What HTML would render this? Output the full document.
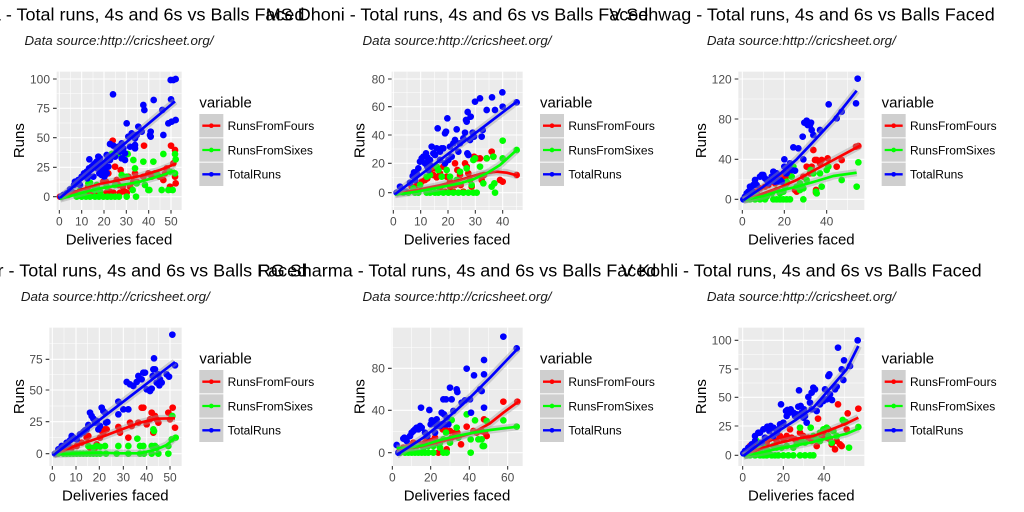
<!DOCTYPE html>
<html><head><meta charset="utf-8"><style>
html,body{margin:0;padding:0;background:#fff;width:1024px;height:512px;overflow:hidden}
svg{display:block}
.tt{font-family:"Liberation Sans",Arial,sans-serif;font-size:54px;fill:#000}
.st{font-family:"Liberation Sans",Arial,sans-serif;font-size:40px;font-style:italic;fill:#1a1a1a}
.tk{font-family:"Liberation Sans",Arial,sans-serif;font-size:36px;fill:#4D4D4D}
.ax{font-family:"Liberation Sans",Arial,sans-serif;font-size:45px;fill:#000}
.lg{font-family:"Liberation Sans",Arial,sans-serif;font-size:36px;fill:#000}
.mi{stroke:#fff;stroke-width:1.6;fill:none}
.ma{stroke:#fff;stroke-width:3.2;fill:none}
.tm{stroke:#333;stroke-width:3.2;fill:none}
.pr{stroke:#FF0000;stroke-width:20;stroke-linecap:round;fill:none}
.pg{stroke:#00FF00;stroke-width:20;stroke-linecap:round;fill:none}
.pb{stroke:#0000FF;stroke-width:20;stroke-linecap:round;fill:none}
.bd{stroke:#999;stroke-opacity:.4;stroke-width:22;fill:none;stroke-linejoin:round}
.lr{stroke:#FF0000;stroke-width:8;fill:none;stroke-linejoin:round}
.lgn{stroke:#00FF00;stroke-width:8;fill:none;stroke-linejoin:round}
.lb{stroke:#0000FF;stroke-width:8;fill:none;stroke-linejoin:round}
.ky{fill:#CFCFCF}
</style></head><body>
<svg width="1024" height="512" viewBox="0 0 1024 512" xmlns="http://www.w3.org/2000/svg">
<rect width="1024" height="512" fill="#fff"/>

<!-- Panel 1 -->
<g transform="translate(0,0) scale(0.333333)">
<rect x="170" y="215" width="375" height="415" fill="#EBEBEB"/>
<path class="mi" d="M212 215V630M279 215V630M346 215V630M413 215V630M480 215V630M170 281H545M170 369H545M170 457H545M170 546H545"/>
<path class="ma" d="M178 215V630M245 215V630M312 215V630M379 215V630M446 215V630M513 215V630M170 237H545M170 325H545M170 413H545M170 502H545M170 590H545"/>
<path class="pr" d="M180 590h.1M205 585h.1M225 580h.1M240 578h.1M258 576h.1M270 578h.1M282 575h.1M290 560h.1M300 575h.1M310 545h.1M318 545h.1M330 575h.1M338 422h.1M345 500h.1M350 540h.1M355 555h.1M362 510h.1M368 560h.1M375 575h.1M380 578h.1M390 560h.1M400 545h.1M405 520h.1M410 545h.1M430 530h.1M432 437h.1M445 520h.1M455 530h.1M465 520h.1M478 530h.1M495 520h.1M500 505h.1M513 437h.1M520 490h.1M525 530h.1M527 550h.1M525 450h.1M490 540h.1M510 560h.1M295 580h.1M320 578h.1M340 578h.1M360 578h.1M385 530h.1M325 520h.1M265 560h.1"/>
<path class="pg" d="M230 590h.1M245 590h.1M258 590h.1M270 590h.1M285 590h.1M297 590h.1M310 590h.1M322 590h.1M333 590h.1M345 590h.1M357 590h.1M380 590h.1M300 575h.1M283 570h.1M265 550h.1M270 548h.1M290 555h.1M320 560h.1M345 555h.1M335 462h.1M345 462h.1M355 462h.1M383 462h.1M365 525h.1M380 530h.1M405 505h.1M398 570h.1M410 550h.1M400 480h.1M430 485h.1M460 485h.1M445 570h.1M448 570h.1M485 570h.1M505 570h.1M518 570h.1M490 462h.1M525 462h.1M527 478h.1M510 515h.1M470 520h.1M525 520h.1M435 555h.1M408 590h.1M250 580h.1M240 572h.1"/>
<path class="pb" d="M183 590h.1M200 580h.1M210 568h.1M222 555h.1M225 545h.1M235 540h.1M245 530h.1M252 520h.1M260 515h.1M265 525h.1M267 505h.1M275 500h.1M280 495h.1M285 490h.1M290 485h.1M295 480h.1M300 475h.1M305 510h.1M310 500h.1M315 490h.1M320 465h.1M325 500h.1M330 480h.1M335 470h.1M268 478h.1M288 500h.1M298 520h.1M305 525h.1M315 525h.1M320 520h.1M330 432h.1M340 437h.1M339 283h.1M380 370h.1M385 410h.1M395 400h.1M390 440h.1M405 415h.1M410 405h.1M405 435h.1M405 445h.1M415 380h.1M425 395h.1M430 315h.1M433 330h.1M452 395h.1M450 405h.1M452 410h.1M461 300h.1M490 405h.1M487 330h.1M505 370h.1M512 240h.1M520 240h.1M527 237h.1M513 298h.1M527 360h.1M515 365h.1M355 440h.1M365 430h.1M370 445h.1M360 455h.1M350 450h.1M375 460h.1M375 480h.1M365 475h.1M345 470h.1M255 520h.1M262 535h.1M270 510h.1M280 530h.1M292 505h.1M308 520h.1M313 530h.1M318 505h.1M322 480h.1M295 470h.1M190 585h.1M215 575h.1M240 555h.1"/>
<polyline class="bd" points="180,594 240,570 300,552 360,540 420,528 480,510 525,492"/>
<polyline class="lr" points="180,594 240,570 300,552 360,540 420,528 480,510 525,492"/>
<polyline class="bd" points="180,597 240,580 300,565 360,556 420,545 480,528 525,512"/>
<polyline class="lgn" points="180,597 240,580 300,565 360,556 420,545 480,528 525,512"/>
<polyline class="bd" points="180,594 525,304"/>
<polyline class="lb" points="180,594 525,304"/>
<path class="tm" d="M159 237H170M159 325H170M159 413H170M159 502H170M159 590H170M178 630V641M245 630V641M312 630V641M379 630V641M446 630V641M513 630V641"/>
<g class="tk" text-anchor="end"><text x="150" y="250">100</text><text x="150" y="338">75</text><text x="150" y="426">50</text><text x="150" y="515">25</text><text x="150" y="603">0</text></g>
<g class="tk" text-anchor="middle"><text x="178" y="676">0</text><text x="245" y="676">10</text><text x="312" y="676">20</text><text x="379" y="676">30</text><text x="446" y="676">40</text><text x="513" y="676">50</text></g>
<text class="ax" x="357" y="733" text-anchor="middle">Deliveries faced</text>
<text class="ax" transform="translate(72,422) rotate(-90)" text-anchor="middle">Runs</text>
<text class="ax" x="598" y="322">variable</text>
<rect class="ky" x="598" y="342" width="72" height="70"/><rect class="ky" x="598" y="415" width="72" height="70"/><rect class="ky" x="598" y="488" width="72" height="70"/>
<path stroke="#FF0000" stroke-width="7" d="M607 377H661"/><circle cx="634" cy="377" r="7" fill="#FF0000"/>
<path stroke="#00FF00" stroke-width="7" d="M607 450H661"/><circle cx="634" cy="450" r="7" fill="#00FF00"/>
<path stroke="#0000FF" stroke-width="7" d="M607 523H661"/><circle cx="634" cy="523" r="7" fill="#0000FF"/>
<text class="lg" x="683" y="390">RunsFromFours</text><text class="lg" x="683" y="463">RunsFromSixes</text><text class="lg" x="683" y="536">TotalRuns</text>
<text class="st" x="357" y="135" text-anchor="middle">Data source:http://cricsheet.org/</text>
<text class="tt" x="344" y="62" text-anchor="middle">SK Raina - Total runs, 4s and 6s vs Balls Faced</text>
</g>

<!-- Panel 2 -->
<g transform="translate(340,0) scale(0.333333)">
<rect x="155" y="215" width="393" height="415" fill="#EBEBEB"/>
<path class="mi" d="M201 215V630M283 215V630M365 215V630M447 215V630M529 215V630M155 278H548M155 362H548M155 447H548M155 533H548M155 620H548"/>
<path class="ma" d="M160 215V630M242 215V630M324 215V630M406 215V630M488 215V630M155 237H548M155 320H548M155 405H548M155 490H548M155 578H548"/>
<path class="pr" d="M200 575h.1M215 560h.1M230 555h.1M245 545h.1M255 540h.1M262 535h.1M270 510h.1M280 525h.1M285 505h.1M290 532h.1M300 520h.1M310 500h.1M320 530h.1M330 545h.1M345 490h.1M352 510h.1M360 525h.1M362 555h.1M375 490h.1M380 500h.1M385 520h.1M390 540h.1M395 560h.1M402 470h.1M410 475h.1M420 475h.1M425 540h.1M432 525h.1M440 475h.1M455 455h.1M460 470h.1M480 540h.1M488 545h.1M530 525h.1M345 555h.1M330 560h.1M300 565h.1M315 575h.1M340 575h.1M370 575h.1"/>
<path class="pg" d="M190 578h.1M205 578h.1M225 578h.1M235 578h.1M260 578h.1M270 578h.1M285 578h.1M295 578h.1M310 578h.1M325 578h.1M340 578h.1M355 578h.1M370 578h.1M385 578h.1M400 578h.1M410 578h.1M465 578h.1M455 560h.1M220 565h.1M240 555h.1M260 530h.1M270 525h.1M290 500h.1M295 510h.1M305 530h.1M320 510h.1M330 530h.1M350 540h.1M360 515h.1M380 505h.1M400 480h.1M405 475h.1M420 500h.1M430 550h.1M440 475h.1M460 470h.1M488 475h.1M488 422h.1M530 450h.1M463 550h.1M395 555h.1"/>
<path class="pb" d="M170 578h.1M180 560h.1M195 575h.1M210 548h.1M218 528h.1M222 517h.1M230 520h.1M240 485h.1M245 475h.1M250 470h.1M255 490h.1M258 460h.1M262 500h.1M265 510h.1M270 480h.1M275 440h.1M280 460h.1M285 465h.1M290 445h.1M293 385h.1M300 455h.1M305 445h.1M310 445h.1M315 400h.1M318 395h.1M322 355h.1M325 480h.1M330 440h.1M335 470h.1M340 430h.1M345 420h.1M350 388h.1M355 455h.1M360 430h.1M370 415h.1M375 398h.1M378 360h.1M380 365h.1M383 336h.1M390 420h.1M382 460h.1M385 465h.1M392 350h.1M398 398h.1M402 410h.1M405 305h.1M420 295h.1M425 410h.1M428 390h.1M440 330h.1M456 292h.1M465 330h.1M487 277h.1M488 320h.1M530 307h.1M225 540h.1M235 505h.1M262 472h.1M270 495h.1M300 480h.1M315 490h.1"/>
<polyline class="bd" points="165,582 230,570 300,556 360,540 420,522 470,515 500,518 530,526"/>
<polyline class="lr" points="165,582 230,570 300,556 360,540 420,522 470,515 500,518 530,526"/>
<polyline class="bd" points="165,584 230,575 300,562 360,550 400,538 440,520 480,495 530,450"/>
<polyline class="lgn" points="165,584 230,575 300,562 360,550 400,538 440,520 480,495 530,450"/>
<polyline class="bd" points="165,583 530,305"/>
<polyline class="lb" points="165,583 530,305"/>
<path class="tm" d="M144 237H155M144 320H155M144 405H155M144 490H155M144 578H155M160 630V641M242 630V641M324 630V641M406 630V641M488 630V641"/>
<g class="tk" text-anchor="end"><text x="135" y="250">80</text><text x="135" y="333">60</text><text x="135" y="418">40</text><text x="135" y="503">20</text><text x="135" y="591">0</text></g>
<g class="tk" text-anchor="middle"><text x="160" y="676">0</text><text x="242" y="676">10</text><text x="324" y="676">20</text><text x="406" y="676">30</text><text x="488" y="676">40</text></g>
<text class="ax" x="351" y="733" text-anchor="middle">Deliveries faced</text>
<text class="ax" transform="translate(73,422) rotate(-90)" text-anchor="middle">Runs</text>
<text class="ax" x="600" y="322">variable</text>
<rect class="ky" x="600" y="342" width="72" height="70"/><rect class="ky" x="600" y="415" width="72" height="70"/><rect class="ky" x="600" y="488" width="72" height="70"/>
<path stroke="#FF0000" stroke-width="7" d="M609 377H663"/><circle cx="636" cy="377" r="7" fill="#FF0000"/>
<path stroke="#00FF00" stroke-width="7" d="M609 450H663"/><circle cx="636" cy="450" r="7" fill="#00FF00"/>
<path stroke="#0000FF" stroke-width="7" d="M609 523H663"/><circle cx="636" cy="523" r="7" fill="#0000FF"/>
<text class="lg" x="685" y="390">RunsFromFours</text><text class="lg" x="685" y="463">RunsFromSixes</text><text class="lg" x="685" y="536">TotalRuns</text>
<text class="st" x="351" y="135" text-anchor="middle">Data source:http://cricsheet.org/</text>
<text class="tt" x="351" y="62" text-anchor="middle">MS Dhoni - Total runs, 4s and 6s vs Balls Faced</text>
</g>

<!-- Panel 3 -->
<g transform="translate(680,0) scale(0.333333)">
<rect x="175" y="215" width="378" height="415" fill="#EBEBEB"/>
<path class="mi" d="M250 215V630M377 215V630M503 215V630M175 297H553M175 417H553M175 538H553"/>
<path class="ma" d="M187 215V630M313 215V630M440 215V630M175 237H553M175 357H553M175 478H553M175 598H553"/>
<path class="pr" d="M195 595h.1M205 590h.1M215 585h.1M225 575h.1M230 580h.1M240 565h.1M255 560h.1M265 555h.1M275 545h.1M285 550h.1M295 535h.1M300 540h.1M305 530h.1M310 520h.1M318 530h.1M325 520h.1M330 510h.1M320 550h.1M345 570h.1M350 575h.1M355 560h.1M370 530h.1M380 500h.1M390 520h.1M395 500h.1M400 450h.1M405 480h.1M410 480h.1M420 490h.1M425 480h.1M443 475h.1M470 500h.1M485 480h.1M528 440h.1M535 438h.1M408 570h.1M408 578h.1"/>
<path class="pg" d="M200 598h.1M210 598h.1M225 598h.1M240 598h.1M255 598h.1M280 598h.1M290 598h.1M300 598h.1M310 598h.1M320 598h.1M330 598h.1M370 598h.1M215 590h.1M230 585h.1M260 590h.1M275 580h.1M290 570h.1M300 580h.1M310 575h.1M315 560h.1M320 545h.1M335 530h.1M340 500h.1M350 560h.1M360 570h.1M370 565h.1M380 540h.1M392 510h.1M400 520h.1M408 575h.1M410 580h.1M420 520h.1M425 560h.1M440 510h.1M445 500h.1M485 540h.1M530 560h.1M535 487h.1M360 550h.1"/>
<path class="pb" d="M190 598h.1M195 590h.1M200 580h.1M205 575h.1M210 560h.1M215 570h.1M220 555h.1M225 540h.1M230 555h.1M240 530h.1M245 525h.1M250 525h.1M255 535h.1M260 540h.1M265 550h.1M270 545h.1M275 530h.1M280 515h.1M285 545h.1M290 520h.1M295 545h.1M300 540h.1M305 545h.1M313 478h.1M313 500h.1M318 520h.1M320 520h.1M325 500h.1M330 490h.1M335 510h.1M340 442h.1M355 445h.1M345 512h.1M370 478h.1M368 410h.1M373 368h.1M380 362h.1M383 375h.1M390 375h.1M393 368h.1M395 390h.1M400 405h.1M420 390h.1M446 313h.1M470 355h.1M485 335h.1M528 310h.1M533 236h.1"/>
<polyline class="bd" points="190,601 250,580 300,562 350,540 400,512 460,480 540,437"/>
<polyline class="lr" points="190,601 250,580 300,562 350,540 400,512 460,480 540,437"/>
<polyline class="bd" points="190,601 250,588 300,572 350,560 400,546 460,528 530,518"/>
<polyline class="lgn" points="190,601 250,588 300,572 350,560 400,546 460,528 530,518"/>
<polyline class="bd" points="190,601 250,560 300,522 350,478 400,425 460,360 530,272"/>
<polyline class="lb" points="190,601 250,560 300,522 350,478 400,425 460,360 530,272"/>
<path class="tm" d="M164 237H175M164 357H175M164 478H175M164 598H175M187 630V641M313 630V641M440 630V641"/>
<g class="tk" text-anchor="end"><text x="155" y="250">120</text><text x="155" y="370">80</text><text x="155" y="491">40</text><text x="155" y="611">0</text></g>
<g class="tk" text-anchor="middle"><text x="187" y="676">0</text><text x="313" y="676">20</text><text x="440" y="676">40</text></g>
<text class="ax" x="364" y="733" text-anchor="middle">Deliveries faced</text>
<text class="ax" transform="translate(78,422) rotate(-90)" text-anchor="middle">Runs</text>
<text class="ax" x="605" y="322">variable</text>
<rect class="ky" x="605" y="342" width="72" height="70"/><rect class="ky" x="605" y="415" width="72" height="70"/><rect class="ky" x="605" y="488" width="72" height="70"/>
<path stroke="#FF0000" stroke-width="7" d="M614 377H668"/><circle cx="641" cy="377" r="7" fill="#FF0000"/>
<path stroke="#00FF00" stroke-width="7" d="M614 450H668"/><circle cx="641" cy="450" r="7" fill="#00FF00"/>
<path stroke="#0000FF" stroke-width="7" d="M614 523H668"/><circle cx="641" cy="523" r="7" fill="#0000FF"/>
<text class="lg" x="690" y="390">RunsFromFours</text><text class="lg" x="690" y="463">RunsFromSixes</text><text class="lg" x="690" y="536">TotalRuns</text>
<text class="st" x="364" y="135" text-anchor="middle">Data source:http://cricsheet.org/</text>
<text class="tt" x="366" y="62" text-anchor="middle">V Sehwag - Total runs, 4s and 6s vs Balls Faced</text>
</g>

<!-- Panel 4 -->
<g transform="translate(0,256) scale(0.333333)">
<rect x="148" y="215" width="397" height="415" fill="#EBEBEB"/>
<path class="mi" d="M192 215V630M263 215V630M334 215V630M405 215V630M475 215V630M148 263H545M148 356H545M148 450H545M148 545H545"/>
<path class="ma" d="M157 215V630M228 215V630M298 215V630M370 215V630M440 215V630M510 215V630M148 310H545M148 402H545M148 497H545M148 593H545"/>
<path class="pr" d="M170 593h.1M180 590h.1M190 585h.1M200 578h.1M215 575h.1M230 570h.1M245 560h.1M250 530h.1M260 545h.1M265 540h.1M270 575h.1M285 575h.1M290 565h.1M300 545h.1M305 525h.1M310 530h.1M315 520h.1M320 520h.1M355 513h.1M360 530h.1M385 545h.1M390 500h.1M395 510h.1M425 455h.1M430 455h.1M440 505h.1M450 490h.1M455 470h.1M460 530h.1M465 480h.1M470 490h.1M475 500h.1M505 470h.1M510 490h.1M518 455h.1M525 515h.1M415 500h.1"/>
<path class="pg" d="M175 593h.1M190 593h.1M200 593h.1M210 593h.1M220 593h.1M230 593h.1M240 593h.1M250 593h.1M260 593h.1M270 593h.1M280 593h.1M290 593h.1M300 593h.1M318 593h.1M350 593h.1M385 593h.1M420 593h.1M432 593h.1M455 593h.1M475 593h.1M505 593h.1M265 570h.1M280 575h.1M290 570h.1M300 572h.1M315 570h.1M355 570h.1M385 570h.1M412 548h.1M420 570h.1M430 570h.1M455 570h.1M465 570h.1M470 575h.1M460 520h.1M462 525h.1M505 570h.1M517 480h.1M527 545h.1M515 550h.1"/>
<path class="pb" d="M165 593h.1M175 580h.1M185 570h.1M195 575h.1M200 560h.1M210 553h.1M215 540h.1M220 545h.1M225 548h.1M230 550h.1M240 535h.1M250 528h.1M255 523h.1M260 520h.1M265 507h.1M270 470h.1M275 480h.1M280 488h.1M285 500h.1M290 495h.1M300 510h.1M305 455h.1M310 465h.1M315 470h.1M318 500h.1M322 498h.1M355 437h.1M355 475h.1M370 460h.1M385 460h.1M390 385h.1M400 390h.1M410 378h.1M425 370h.1M430 350h.1M435 350h.1M440 400h.1M450 405h.1M455 398h.1M458 360h.1M460 340h.1M462 307h.1M465 340h.1M470 380h.1M475 355h.1M480 370h.1M478 388h.1M485 380h.1M500 355h.1M507 362h.1M517 236h.1M525 328h.1M380 378h.1M415 360h.1M205 570h.1M295 520h.1"/>
<polyline class="bd" points="160,597 220,572 300,545 360,522 420,500 470,488 525,487"/>
<polyline class="lr" points="160,597 220,572 300,545 360,522 420,500 470,488 525,487"/>
<polyline class="bd" points="160,595 240,592 300,590 360,592 420,592 470,580 500,567 525,545"/>
<polyline class="lgn" points="160,595 240,592 300,590 360,592 420,592 470,580 500,567 525,545"/>
<polyline class="bd" points="160,598 525,318"/>
<polyline class="lb" points="160,598 525,318"/>
<path class="tm" d="M137 310H148M137 402H148M137 497H148M137 593H148M157 630V641M228 630V641M298 630V641M370 630V641M440 630V641M510 630V641"/>
<g class="tk" text-anchor="end"><text x="128" y="323">75</text><text x="128" y="415">50</text><text x="128" y="510">25</text><text x="128" y="606">0</text></g>
<g class="tk" text-anchor="middle"><text x="157" y="676">0</text><text x="228" y="676">10</text><text x="298" y="676">20</text><text x="370" y="676">30</text><text x="440" y="676">40</text><text x="510" y="676">50</text></g>
<text class="ax" x="346" y="733" text-anchor="middle">Deliveries faced</text>
<text class="ax" transform="translate(72,422) rotate(-90)" text-anchor="middle">Runs</text>
<text class="ax" x="598" y="322">variable</text>
<rect class="ky" x="598" y="342" width="72" height="70"/><rect class="ky" x="598" y="415" width="72" height="70"/><rect class="ky" x="598" y="488" width="72" height="70"/>
<path stroke="#FF0000" stroke-width="7" d="M607 377H661"/><circle cx="634" cy="377" r="7" fill="#FF0000"/>
<path stroke="#00FF00" stroke-width="7" d="M607 450H661"/><circle cx="634" cy="450" r="7" fill="#00FF00"/>
<path stroke="#0000FF" stroke-width="7" d="M607 523H661"/><circle cx="634" cy="523" r="7" fill="#0000FF"/>
<text class="lg" x="683" y="390">RunsFromFours</text><text class="lg" x="683" y="463">RunsFromSixes</text><text class="lg" x="683" y="536">TotalRuns</text>
<text class="st" x="346" y="135" text-anchor="middle">Data source:http://cricsheet.org/</text>
<text class="tt" x="334" y="62" text-anchor="middle">G Gambhir - Total runs, 4s and 6s vs Balls Faced</text>
</g>

<!-- Panel 5 -->
<g transform="translate(340,256) scale(0.333333)">
<rect x="155" y="215" width="393" height="415" fill="#EBEBEB"/>
<path class="mi" d="M214 215V630M330 215V630M445 215V630M155 274H548M155 400H548M155 527H548"/>
<path class="ma" d="M157 215V630M272 215V630M388 215V630M503 215V630M155 337H548M155 463H548M155 590H548"/>
<path class="pr" d="M180 590h.1M190 575h.1M205 570h.1M220 560h.1M240 565h.1M255 560h.1M260 550h.1M275 555h.1M285 545h.1M295 590h.1M308 520h.1M315 520h.1M320 580h.1M330 525h.1M335 545h.1M345 530h.1M352 530h.1M363 565h.1M380 512h.1M400 525h.1M410 530h.1M425 525h.1M432 490h.1M435 530h.1M440 540h.1M490 437h.1M532 437h.1M292 560h.1"/>
<path class="pg" d="M180 590h.1M195 590h.1M205 590h.1M215 590h.1M225 590h.1M235 590h.1M245 590h.1M255 590h.1M265 590h.1M280 590h.1M310 590h.1M320 590h.1M392 590h.1M200 580h.1M215 575h.1M230 570h.1M250 575h.1M265 570h.1M280 570h.1M300 560h.1M310 550h.1M318 530h.1M335 492h.1M330 560h.1M350 515h.1M355 545h.1M380 475h.1M392 550h.1M405 493h.1M415 550h.1M425 550h.1M428 570h.1M432 570h.1M440 495h.1M490 493h.1M530 512h.1M300 575h.1"/>
<path class="pb" d="M170 567h.1M175 590h.1M190 548h.1M193 545h.1M200 555h.1M210 540h.1M215 530h.1M220 525h.1M225 520h.1M230 515h.1M235 520h.1M240 510h.1M243 455h.1M245 515h.1M255 530h.1M262 540h.1M268 462h.1M272 505h.1M275 493h.1M278 497h.1M285 530h.1M290 510h.1M295 505h.1M300 510h.1M305 505h.1M312 475h.1M315 505h.1M320 485h.1M325 505h.1M310 430h.1M318 430h.1M330 395h.1M335 430h.1M340 465h.1M350 400h.1M352 408h.1M365 440h.1M375 433h.1M380 338h.1M390 430h.1M393 470h.1M402 358h.1M420 400h.1M425 405h.1M432 312h.1M432 355h.1M432 455h.1M490 242h.1M530 277h.1M290 490h.1M305 470h.1"/>
<polyline class="bd" points="170,580 220,575 250,570 300,557 350,545 400,530 450,502 490,470 535,437"/>
<polyline class="lr" points="170,580 220,575 250,570 300,557 350,545 400,530 450,502 490,470 535,437"/>
<polyline class="bd" points="170,577 220,573 250,568 300,552 350,540 400,530 450,522 533,512"/>
<polyline class="lgn" points="170,577 220,573 250,568 300,552 350,540 400,530 450,522 533,512"/>
<polyline class="bd" points="170,597 250,545 300,505 350,462 400,415 450,365 533,278"/>
<polyline class="lb" points="170,597 250,545 300,505 350,462 400,415 450,365 533,278"/>
<path class="tm" d="M144 337H155M144 463H155M144 590H155M157 630V641M272 630V641M388 630V641M503 630V641"/>
<g class="tk" text-anchor="end"><text x="135" y="350">80</text><text x="135" y="476">40</text><text x="135" y="603">0</text></g>
<g class="tk" text-anchor="middle"><text x="157" y="676">0</text><text x="272" y="676">20</text><text x="388" y="676">40</text><text x="503" y="676">60</text></g>
<text class="ax" x="351" y="733" text-anchor="middle">Deliveries faced</text>
<text class="ax" transform="translate(73,422) rotate(-90)" text-anchor="middle">Runs</text>
<text class="ax" x="600" y="322">variable</text>
<rect class="ky" x="600" y="342" width="72" height="70"/><rect class="ky" x="600" y="415" width="72" height="70"/><rect class="ky" x="600" y="488" width="72" height="70"/>
<path stroke="#FF0000" stroke-width="7" d="M609 377H663"/><circle cx="636" cy="377" r="7" fill="#FF0000"/>
<path stroke="#00FF00" stroke-width="7" d="M609 450H663"/><circle cx="636" cy="450" r="7" fill="#00FF00"/>
<path stroke="#0000FF" stroke-width="7" d="M609 523H663"/><circle cx="636" cy="523" r="7" fill="#0000FF"/>
<text class="lg" x="685" y="390">RunsFromFours</text><text class="lg" x="685" y="463">RunsFromSixes</text><text class="lg" x="685" y="536">TotalRuns</text>
<text class="st" x="351" y="135" text-anchor="middle">Data source:http://cricsheet.org/</text>
<text class="tt" x="351" y="62" text-anchor="middle">RG Sharma - Total runs, 4s and 6s vs Balls Faced</text>
</g>

<!-- Panel 6 -->
<g transform="translate(680,256) scale(0.333333)">
<rect x="175" y="215" width="378" height="415" fill="#EBEBEB"/>
<path class="mi" d="M249 215V630M371 215V630M493 215V630M175 296H553M175 381H553M175 467H553M175 553H553"/>
<path class="ma" d="M188 215V630M310 215V630M432 215V630M175 253H553M175 339H553M175 424H553M175 510H553M175 598H553"/>
<path class="pr" d="M195 592h.1M205 590h.1M210 570h.1M220 580h.1M230 570h.1M240 575h.1M250 565h.1M260 560h.1M270 548h.1M280 545h.1M290 555h.1M300 540h.1M310 550h.1M320 540h.1M330 520h.1M335 545h.1M345 550h.1M355 555h.1M360 530h.1M370 540h.1M385 545h.1M395 555h.1M410 570h.1M414 488h.1M425 540h.1M430 530h.1M440 545h.1M450 550h.1M455 565h.1M465 580h.1M470 555h.1M474 445h.1M480 565h.1M485 570h.1M493 500h.1M503 472h.1M535 458h.1M445 520h.1M460 525h.1M500 520h.1"/>
<path class="pg" d="M200 598h.1M210 598h.1M225 598h.1M240 598h.1M250 598h.1M260 598h.1M275 598h.1M285 598h.1M295 598h.1M310 598h.1M325 598h.1M340 598h.1M360 598h.1M375 598h.1M390 598h.1M400 598h.1M230 555h.1M240 580h.1M255 575h.1M265 585h.1M280 570h.1M290 575h.1M305 575h.1M320 570h.1M340 575h.1M350 565h.1M360 515h.1M365 555h.1M375 560h.1M392 515h.1M400 540h.1M410 550h.1M420 530h.1M430 520h.1M440 515h.1M445 540h.1M455 560h.1M470 540h.1M488 492h.1M497 498h.1M507 575h.1M535 513h.1M460 525h.1M420 555h.1"/>
<path class="pb" d="M190 592h.1M195 585h.1M205 575h.1M210 580h.1M215 565h.1M225 555h.1M235 530h.1M240 530h.1M250 520h.1M255 545h.1M262 512h.1M268 525h.1M272 510h.1M280 515h.1M290 530h.1M295 520h.1M300 505h.1M303 445h.1M310 500h.1M318 465h.1M322 462h.1M328 470h.1M332 460h.1M340 470h.1M345 480h.1M350 475h.1M355 452h.1M357 403h.1M362 450h.1M365 470h.1M372 460h.1M375 480h.1M380 500h.1M385 423h.1M390 440h.1M395 460h.1M400 395h.1M405 400h.1M410 465h.1M420 445h.1M430 435h.1M435 400h.1M440 430h.1M445 360h.1M448 355h.1M450 415h.1M456 432h.1M465 400h.1M470 392h.1M474 275h.1M485 340h.1M490 372h.1M492 313h.1M510 330h.1M533 253h.1M225 540h.1M245 560h.1M280 540h.1M320 480h.1M370 485h.1M395 410h.1"/>
<polyline class="bd" points="190,600 250,575 300,560 350,548 400,540 450,522 500,502 535,485"/>
<polyline class="lr" points="190,600 250,575 300,560 350,548 400,540 450,522 500,502 535,485"/>
<polyline class="bd" points="190,600 250,588 300,577 350,568 400,558 450,545 500,533 535,518"/>
<polyline class="lgn" points="190,600 250,588 300,577 350,568 400,558 450,545 500,533 535,518"/>
<polyline class="bd" points="190,600 250,555 300,522 350,490 400,455 450,398 500,340 535,270"/>
<polyline class="lb" points="190,600 250,555 300,522 350,490 400,455 450,398 500,340 535,270"/>
<path class="tm" d="M164 253H175M164 339H175M164 424H175M164 510H175M164 598H175M188 630V641M310 630V641M432 630V641"/>
<g class="tk" text-anchor="end"><text x="155" y="266">100</text><text x="155" y="352">75</text><text x="155" y="437">50</text><text x="155" y="523">25</text><text x="155" y="611">0</text></g>
<g class="tk" text-anchor="middle"><text x="188" y="676">0</text><text x="310" y="676">20</text><text x="432" y="676">40</text></g>
<text class="ax" x="364" y="733" text-anchor="middle">Deliveries faced</text>
<text class="ax" transform="translate(78,422) rotate(-90)" text-anchor="middle">Runs</text>
<text class="ax" x="605" y="322">variable</text>
<rect class="ky" x="605" y="342" width="72" height="70"/><rect class="ky" x="605" y="415" width="72" height="70"/><rect class="ky" x="605" y="488" width="72" height="70"/>
<path stroke="#FF0000" stroke-width="7" d="M614 377H668"/><circle cx="641" cy="377" r="7" fill="#FF0000"/>
<path stroke="#00FF00" stroke-width="7" d="M614 450H668"/><circle cx="641" cy="450" r="7" fill="#00FF00"/>
<path stroke="#0000FF" stroke-width="7" d="M614 523H668"/><circle cx="641" cy="523" r="7" fill="#0000FF"/>
<text class="lg" x="690" y="390">RunsFromFours</text><text class="lg" x="690" y="463">RunsFromSixes</text><text class="lg" x="690" y="536">TotalRuns</text>
<text class="st" x="364" y="135" text-anchor="middle">Data source:http://cricsheet.org/</text>
<text class="tt" x="364" y="62" text-anchor="middle">V Kohli - Total runs, 4s and 6s vs Balls Faced</text>
</g>
</svg>
</body></html>
